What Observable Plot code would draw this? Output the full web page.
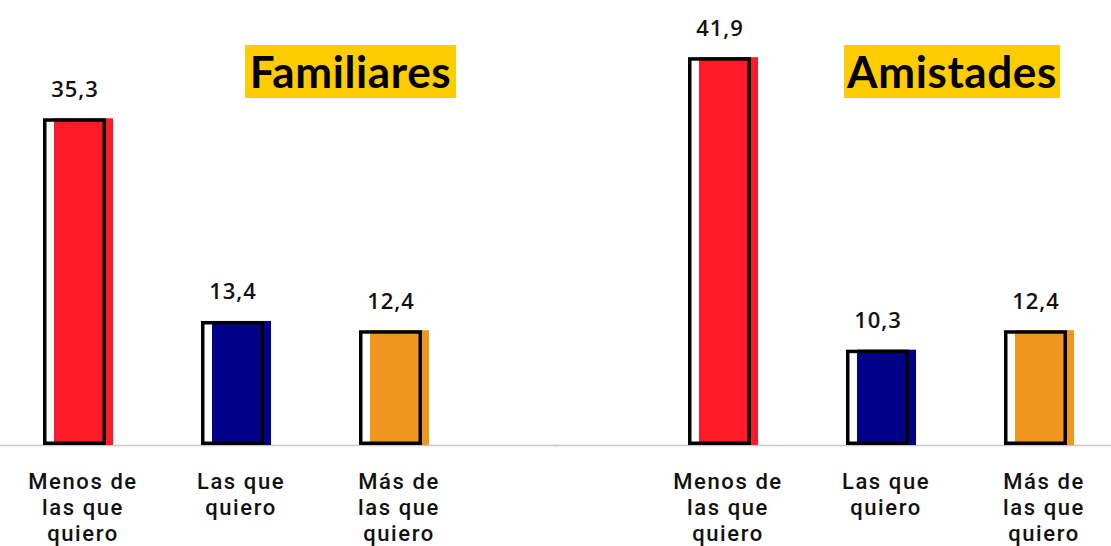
<!DOCTYPE html>
<html>
<head>
<meta charset="utf-8">
<script src="https://cdn.jsdelivr.net/npm/d3@7"></script>
<script src="https://cdn.jsdelivr.net/npm/@observablehq/plot@0.6"></script>
<style>
  html, body { margin: 0; padding: 0; background: #fff; }
  #wrap { position: relative; width: 1111px; height: 546px; }
  #wrap svg g[aria-label="text"] text { letter-spacing: 0.9px; }
  #wrap svg g.catlabel text { letter-spacing: 1.6px; }
  .title {
    position: absolute; background: #FFCC00; color: #000;
    font-family: Lato, "Open Sans", sans-serif; font-weight: 700;
    font-size: 44px; letter-spacing: 0.6px; line-height: 53px; height: 53px; text-align: center;
  }
</style>
</head>
<body>
<div id="wrap"></div>
<script>
const panels = ["Familiares", "Amistades"];
const categories = ["Menos de las que quiero", "Las que quiero", "Más de las que quiero"];
const tickLabels = [["Menos de", "las que", "quiero"], ["Las que", "quiero"], ["Más de", "las que", "quiero"]];
const familiares = [35.3, 13.4, 12.4];
const amistades = [41.9, 10.3, 12.4];
const colors = ["#FF1A27", "#00008B", "#F0961E"];

const data = [];
categories.forEach((c, i) => data.push({panel: panels[0], cat: c, value: familiares[i]}));
categories.forEach((c, i) => data.push({panel: panels[1], cat: c, value: amistades[i]}));

// one row per label line, per panel
const lines = [];
panels.forEach(p => categories.forEach((c, i) =>
  tickLabels[i].forEach((t, k) => lines.push({panel: p, cat: c, line: k, text: t}))));

const fmt = v => v.toFixed(1).replace(".", ",");

const lineMarks = [0, 1, 2].map(k =>
  Plot.text(lines.filter(l => l.line === k), {
    fx: "panel", x: "cat", text: "text", frameAnchor: "bottom", lineAnchor: "top",
    dy: 28 + k * 26, dx: 8, fontSize: 22, fontWeight: 500, fill: "#111",
    fontFamily: "Roboto, sans-serif", className: "catlabel"
  }));

const chart = Plot.plot({
  width: 1111,
  height: 546,
  marginLeft: 0,
  marginRight: 0,
  marginTop: 47,
  marginBottom: 101,
  style: {fontFamily: "'Open Sans', sans-serif", background: "#fff", color: "#111"},
  fx: {domain: panels, padding: 0.28, axis: null, label: null},
  x: {domain: categories, paddingInner: 0.6, paddingOuter: 0.26, axis: null, label: null},
  y: {domain: [0, 43], axis: null},
  color: {domain: categories, range: colors},
  marks: [
    Plot.ruleY([0], {stroke: "#c8c8c8", strokeWidth: 1.5, insetLeft: -92, insetRight: -92}),
    Plot.barY(data, {fx: "panel", x: "cat", y: "value", fill: "cat", dx: 7, insetLeft: 4}),
    Plot.barY(data, {fx: "panel", x: "cat", y: "value", fill: "none", stroke: "#000", strokeWidth: 3.5, inset: 1.75}),
    Plot.text(data, {fx: "panel", x: "cat", y: "value", text: d => fmt(d.value), dy: -22, lineAnchor: "bottom", fontSize: 22, fontWeight: 600, fill: "#111"}),
    ...lineMarks
  ]
});

const wrap = document.getElementById("wrap");
wrap.appendChild(chart);
const titlePos = [[245, 45, 211], [844, 45, 216]];
panels.forEach((p, i) => {
  const t = document.createElement("div");
  t.className = "title";
  t.textContent = p;
  t.style.left = titlePos[i][0] + "px";
  t.style.top = titlePos[i][1] + "px";
  t.style.width = titlePos[i][2] + "px";
  wrap.appendChild(t);
});
</script>
</body>
</html>
